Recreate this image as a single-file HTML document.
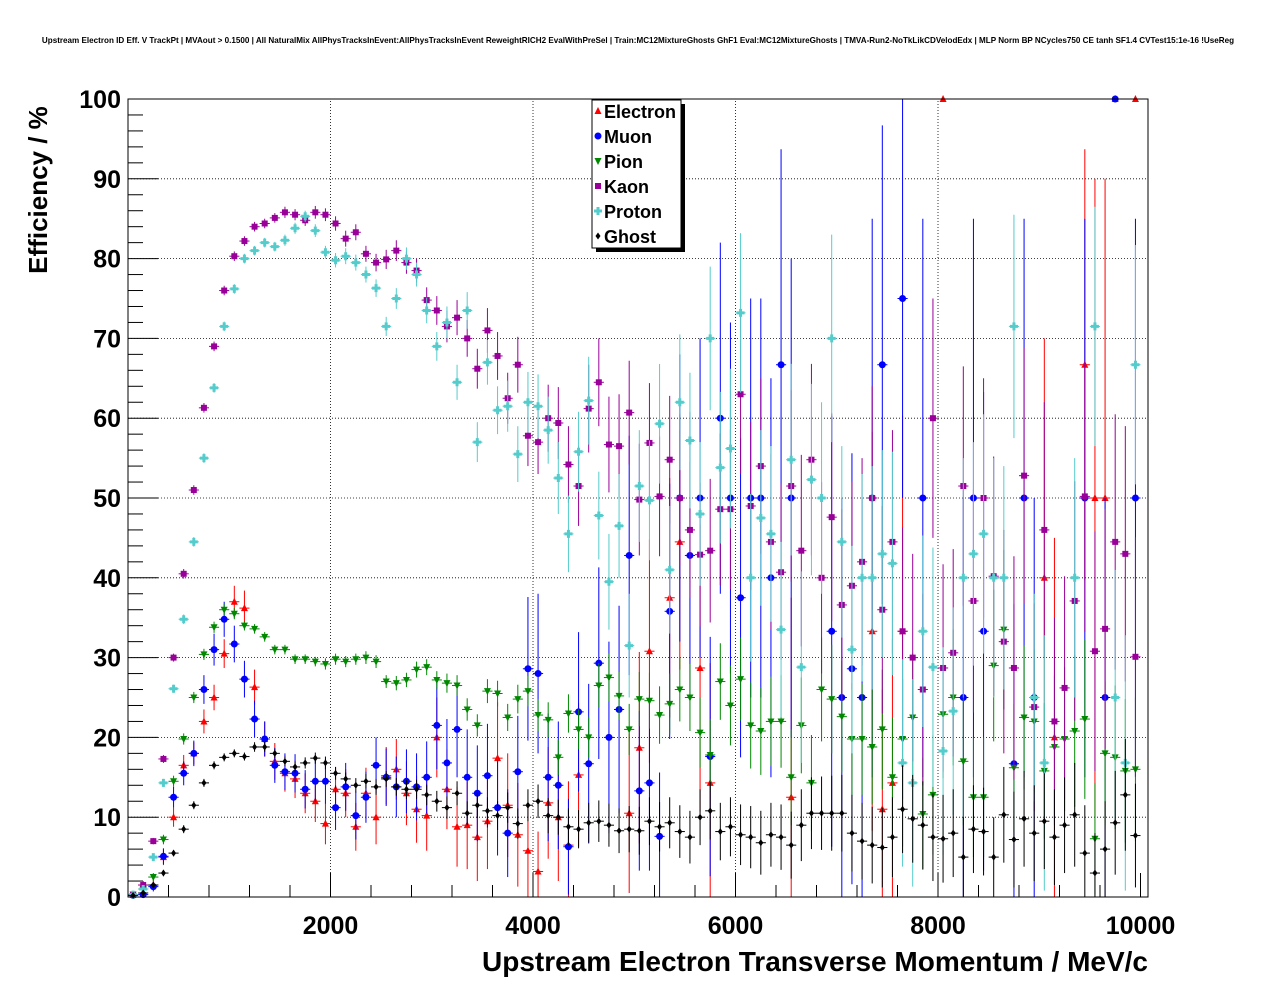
<!DOCTYPE html>
<html><head><meta charset="utf-8">
<style>
html,body{margin:0;padding:0;background:#fff;}
svg{display:block;font-family:"Liberation Sans",Arial,sans-serif;}
</style></head>
<body>
<svg id="chart" width="1276" height="996" viewBox="0 0 1276 996">
<rect x="0" y="0" width="1276" height="996" fill="#fff"/>
<text x="638" y="43" text-anchor="middle" font-size="8.1" font-weight="bold">Upstream Electron ID Eff. V TrackPt | MVAout &gt; 0.1500 | All NaturalMix AllPhysTracksInEvent:AllPhysTracksInEvent ReweightRICH2 EvalWithPreSel | Train:MC12MixtureGhosts GhF1 Eval:MC12MixtureGhosts | TMVA-Run2-NoTkLikCDVelodEdx | MLP Norm BP NCycles750 CE tanh SF1.4 CVTest15:1e-16 !UseReg</text>
<g id="grid"></g>
<g id="axes"></g>
<g id="series"></g>
<rect x="128" y="99" width="1020" height="798" fill="none" stroke="#000" stroke-width="1"/>
<text transform="translate(47,190) rotate(-90)" text-anchor="middle" font-size="26" font-weight="bold">Efficiency / %</text>
<text x="1148" y="971" text-anchor="end" font-size="28" font-weight="bold">Upstream Electron Transverse Momentum / MeV/c</text>
<g id="legend">
<rect x="596" y="104" width="89" height="148" fill="#000"/>
<rect x="592" y="100" width="89" height="148" fill="#fff" stroke="#000" stroke-width="1"/>
</g>
</svg>
<script>
const categories = [];
for (let i = 0; i < 100; i++) categories.push(50 + 100 * i);
const xTicks = [2000, 4000, 6000, 8000, 10000];
const yTicks = [0, 10, 20, 30, 40, 50, 60, 70, 80, 90, 100];
const seriesNames = ["Electron", "Muon", "Pion", "Kaon", "Proton", "Ghost"];
const N = null;
const electronVals = [0.3,1.5,1.5,5,10,16.5,18,22,25,30.5, 37,36.2,26.3,19.8,17,15.5,14.8,13,12,9.2, 13.5,13,8.8,13,10,15.2,16,13,11,10.2, 20,13.5,8.8,9,7.5,9.5,17.4,11.5,7.8,5.8, 3.2,11.8,10,6.5,15.3,N,N,N,N,10.5, 18.7,30.8,N,37.5,44.5,N,28.7,14.3,N,N, N,N,N,N,N,12.5,N,N,N,N, N,N,N,33.3,11,14.3,33.3,N,N,N, 100,N,N,N,N,N,N,N,N,N, 40,20,N,N,66.7,50,50,100,N,100];
const electronErr = [0.2,0.5,0.6,1,1.2,1.3,1.4,1.5,1.6,1.8, 2,2.2,2.2,2.2,2.3,2.3,2.4,2.5,2.6,2.6, 2.8,3,3,3.2,3.4,3.6,3.8,4,4.2,4.4, 5,5,5,5.5,5.5,6,7,6.5,6.5,6, 5,7,8,8,9,N,N,N,N,10, 12,14,N,15,16,N,18,15,N,N, N,N,N,N,N,25,N,N,N,N, N,N,N,25,15,18,27,N,N,N, 0,N,N,N,N,N,N,N,N,N, 30,25,N,N,27,40,40,0,N,0];
const muonVals = [0.2,0.3,1.3,5.1,12.5,15.5,18,26,31,34.8, 31.7,27.3,22.3,19.8,16.5,15.7,15.5,13.5,14.5,14.5, 11.2,13.8,10.2,12.5,16.5,15,13.8,14.5,13.8,15, 21.5,16.8,21,15,13,15.2,11.2,8,15.7,28.6, 28,15,14,6.3,23.2,16.7,29.3,20,23.5,42.8, 13.3,14.3,7.6,35.8,50,42.8,50,17.6,60,50, 37.5,50,50,40,66.7,50,N,N,N,33.3, 25,28.6,25,50,66.7,N,75,N,50,N, N,N,25,50,33.3,N,N,16.7,50,25, N,N,N,N,50,N,25,100,N,50];
const muonErr = [0.2,0.3,0.6,1,1.3,1.5,1.6,1.8,2,2.2, 2.3,2.3,2.3,2.2,2.2,2.3,2.4,2.4,2.6,2.8, 2.8,3,3,3.2,3.5,3.6,3.8,4,4.2,4.5, 5.5,5.5,6,6,6,6.5,6,5.5,7,9, 10,8,8,6,10,10,12,12,13,15, 10,11,8,16,18,18,20,15,22,22, 20,25,25,25,27,30,N,N,N,27, 25,27,25,35,30,N,25,N,35,N, N,N,25,35,30,N,N,20,35,25, N,N,N,N,35,N,25,0,N,35];
const pionVals = [0.3,1,2.5,7.2,14.5,19.8,25,30.4,33.8,36, 35.5,34,33.6,32.6,31,31,29.8,29.8,29.5,29.2, 29.8,29.5,29.8,30,29.5,27,26.8,27.2,28.5,28.8, 27.2,26.8,26.5,23.5,21.5,25.8,25.5,22.5,24.8,25.8, 22.8,22.2,17.5,23,21,20,26.5,27.5,25.2,21, 24.8,24.6,22.8,24.2,26,25,20.6,17.8,27,24, 27.3,21.5,20.8,22,22,15,21.5,14.3,26,24.8, 22.6,19.8,19.8,18.8,21,15,19.8,22.5,10.4,12.8, 22.9,25,17,12.5,12.5,29,33.5,16.2,22.5,22, 15.8,18.8,19.8,20.8,22.3,7.3,18,17.5,15.8,16];
const pionErr = [0.2,0.4,0.5,0.6,0.7,0.7,0.7,0.7,0.7,0.7, 0.7,0.6,0.6,0.6,0.6,0.6,0.6,0.6,0.6,0.7, 0.7,0.7,0.7,0.8,0.8,0.8,0.9,0.9,1,1, 1.1,1.2,1.3,1.4,1.4,1.5,1.6,1.7,1.8,1.9, 2,2.2,2.2,2.4,2.5,2.6,2.8,3,3,3.2, 3.4,3.5,3.6,3.8,4,4.2,4.4,4.5,4.8,5, 5.2,5.4,5.5,5.6,5.8,6,6,6,6.5,6.8, 7,7,7,7.2,7.5,7.5,7.5,8,7,7.5, 8,8.5,8,7.5,7.5,9.5,10,8,9,9, 8.5,9,9,9.5,10,7,9,9,9,9];
const kaonVals = [0.3,1.5,7,17.3,30,40.5,51,61.3,69,76, 80.3,82.2,84,84.4,85.1,85.8,85.5,84.8,85.8,85.5, 84.4,82.5,83.3,80.6,79.5,79.9,81,79.5,78.5,74.8, 73.5,71.5,72.6,70,66.2,71,67.8,62.5,66.7,57.8, 57,60,59.4,54.2,51.5,61.2,64.5,56.7,56.5,60.7, 49.8,56.9,50.2,54.8,50,46,42.9,43.4,48.6,48.6, 63,49,54,44.5,40.7,51.5,43.4,54.8,40,47.6, 36.6,39,42,50,36,44.5,33.3,30,26,60, 28.7,30.6,51.5,37.1,50,40.2,32,28.7,52.8,23.8, 46,22,26.2,37.1,50.2,30.8,33.6,44.5,43,30.1];
const kaonErr = [0.2,0.3,0.4,0.5,0.5,0.6,0.6,0.6,0.6,0.6, 0.6,0.6,0.6,0.6,0.6,0.7,0.7,0.7,0.8,0.8, 0.9,1,1,1,1.1,1.2,1.3,1.4,1.5,1.6, 1.8,2,2.2,2.3,2.5,2.8,3,3.2,3.5,3.8, 4,4.2,4.5,4.8,5,5.5,5.5,6,6.5,6.5, 7,7.5,7.5,8,8.5,8.5,9,9,9.5,10, 10,10.5,11,11,11,12,12,12,12,13, 12,13,13,14,13,14,13,13,12,15, 13,13,15,14,15,15,14,14,16,13, 16,13,14,15,17,15,15,16,16,15];
const protonVals = [0.3,1,5,14.3,26.1,34.8,44.5,55,63.8,71.5, 76.2,80,81,82,81.5,82.3,83.8,85.3,83.5,80.8, 79.8,80.3,79.5,78,76.3,71.5,75,80,78,73.5, 69,72,64.5,73.5,57,67,61,61.5,55.5,62, 61.5,58.5,52.5,45.5,55.8,62.2,47.8,39.5,46.5,31.5, 51.5,49.7,59.3,41,62,57.2,48,70,53.8,56.2, 73.2,40,47.5,45.5,33.5,54.8,28.8,52.3,50,70, 44.5,31,40,40,43,41.8,16.8,14.3,33.3,28.8, 18.3,23.3,40,43,45.5,40,40,71.5,N,25, 16.8,N,N,40,N,71.5,N,25,16.8,66.7];
const protonErr = kaonErr;
const ghostVals = [0.2,0.5,1.5,3,5.5,8.5,11.5,14.3,16.5,17.5, 18,17.6,18.8,18.8,18,17,16.3,16.8,17.4,16.8, 15.5,14.8,14,14.5,13.8,14.8,13.8,13.5,13.5,12.8, 12,11.2,13,10.5,11.5,10.8,10.2,11.2,9.2,11.5, 12,10.2,10,8.8,8.5,9.3,9.5,9,8.3,8.5, 8.3,9.5,8.8,9.3,8.2,7.5,10,10.8,8.2,8.8, 7.8,7.5,6.8,7.8,7.5,6.5,9,10.5,10.5,10.5, 10.5,8,7,6.5,6.2,7.5,11,9.8,9,7.5, 7.3,8,5,8.5,8.2,5,10.3,7.2,9.8,8, 9.5,7.5,9,10.3,5.5,3,6,9.3,12.8,7.7];
const ghostErr = [0.1,0.2,0.3,0.4,0.4,0.5,0.5,0.5,0.5,0.5, 0.5,0.5,0.6,0.6,0.6,0.6,0.7,0.7,0.7,0.8, 0.8,0.8,0.9,0.9,1,1,1.1,1.2,1.2,1.3, 1.3,1.4,1.5,1.5,1.6,1.7,1.8,1.9,1.9,2, 2.1,2.2,2.2,2.3,2.4,2.5,2.6,2.7,2.8,2.9, 3,3,3.1,3.2,3.3,3.3,3.5,3.6,3.6,3.7, 3.8,3.9,4,4,4.1,4.2,4.5,4.5,4.6,4.7, 4.8,4.8,4.8,4.8,5,5,5.5,5.5,5.5,5.5, 5.5,5.5,5,5.5,5.5,5,6,6,6,6, 6,6,6,6.5,6,5,6,6.5,7,6.5];

const NS = "http://www.w3.org/2000/svg";
const X0 = 128, X1 = 1148, XMAX = 10074;
const Y0 = 897, Y1 = 99, YMAX = 100;
function xs(v){ return X0 + (v / XMAX) * (X1 - X0); }
function ys(v){ return Y0 - (v / YMAX) * (Y0 - Y1); }
function mk(tag, attrs, parent){
  const e = document.createElementNS(NS, tag);
  for (const k in attrs) e.setAttribute(k, attrs[k]);
  parent.appendChild(e);
  return e;
}
const grid = document.getElementById("grid");
const axes = document.getElementById("axes");
const series = document.getElementById("series");

yTicks.forEach(t => {
  const y = ys(t);
  if (t > 0 && t < 100) {
    const g = mk("line", {x1:X0, x2:X1, y1:y, y2:y, stroke:"#000", "stroke-width":0.8, "stroke-dasharray":"1,2"}, grid);
    
    
  }
  const tk = mk("line", {x1:X0, x2:X0+30, y1:y, y2:y, stroke:"#000", "stroke-width":1}, axes);
  
  
  const lb = mk("text", {x:121, y:y+9, "text-anchor":"end", "font-size":25, "font-weight":"bold"}, axes);
  lb.textContent = t;
  
  
});
for (let m = 2; m < 100; m += 2) {
  if (m % 10 === 0) continue;
  const y = ys(m);
  const mt = mk("line", {x1:X0, x2:X0+15, y1:y, y2:y, stroke:"#000", "stroke-width":1}, axes);
  
  
}
xTicks.forEach(t => {
  const x = xs(t);
  if (t < 10000) {
    const g = mk("line", {x1:x, x2:x, y1:Y0, y2:Y1, stroke:"#000", "stroke-width":0.8, "stroke-dasharray":"1,2"}, grid);
    
    
  }
  const tk = mk("line", {x1:x, x2:x, y1:Y0, y2:Y0-24, stroke:"#000", "stroke-width":1}, axes);
  
  
  const lb = mk("text", {x:x, y:934, "text-anchor":"middle", "font-size":25, "font-weight":"bold"}, axes);
  lb.textContent = t;
  
  
});
for (let m = 400; m < 10000; m += 400) {
  if (m % 2000 === 0) continue;
  const x = xs(m);
  const mt = mk("line", {x1:x, x2:x, y1:Y0, y2:Y0-12, stroke:"#000", "stroke-width":1}, axes);
  
  
}

function marker(shape, cx, cy, color, parent){
  let e;
  if (shape === "tri-up") e = mk("polygon", {points:`${cx},${cy-4} ${cx-3.5},${cy+3} ${cx+3.5},${cy+3}`, fill:color}, parent);
  else if (shape === "tri-down") e = mk("polygon", {points:`${cx},${cy+4} ${cx-3.5},${cy-3} ${cx+3.5},${cy-3}`, fill:color}, parent);
  else if (shape === "circle") e = mk("circle", {cx:cx, cy:cy, r:3.5, fill:color}, parent);
  else if (shape === "square") e = mk("rect", {x:cx-3, y:cy-3, width:6, height:6, fill:color}, parent);
  else if (shape === "cross") e = mk("path", {d:`M${cx-1.5},${cy-4}h3v2.5h2.5v3h-2.5v2.5h-3v-2.5h-2.5v-3h2.5z`, fill:color}, parent);
  else e = mk("polygon", {points:`${cx},${cy-3.5} ${cx-2.5},${cy} ${cx},${cy+3.5} ${cx+2.5},${cy}`, fill:color}, parent);
  return e;
}
const defs = [
  {name:"electron", vals:electronVals, err:electronErr, color:"#ff0000", shape:"tri-up"},
  {name:"muon", vals:muonVals, err:muonErr, color:"#0000ff", shape:"circle"},
  {name:"pion", vals:pionVals, err:pionErr, color:"#008800", shape:"tri-down"},
  {name:"kaon", vals:kaonVals, err:kaonErr, color:"#990099", shape:"square"},
  {name:"proton", vals:protonVals, err:protonErr, color:"#55cccc", shape:"cross"},
  {name:"ghost", vals:ghostVals, err:ghostErr, color:"#000000", shape:"diamond"}
];
defs.forEach(s => {
  const g = mk("g", {}, series);
  
  
  categories.forEach((c, i) => {
    const v = s.vals[i];
    if (v === null || v === undefined) return;
    const e = s.err[i] || 0;
    const cx = xs(c), cy = ys(v);
    const hx = mk("line", {x1:xs(c-50), x2:xs(c+50), y1:cy, y2:cy, stroke:s.color, "stroke-width":1}, g);
    
    
    if (e > 0) {
      const vy = mk("line", {x1:cx, x2:cx, y1:ys(Math.min(100, v+e)), y2:ys(Math.max(0, v-e)), stroke:s.color, "stroke-width":1}, g);
      
      
    }
    const m = marker(s.shape, cx, cy, s.color, g);
    
    
  });
});
const legend = document.getElementById("legend");
defs.forEach((s, i) => {
  const y = 111 + i * 25;
  const m = marker(s.shape, 598, y, s.color, legend);
  
  
  const t = mk("text", {x:604, y:y+7, "font-size":18, "font-weight":"bold"}, legend);
  t.textContent = seriesNames[i];
  
  
});
</script>
</body></html>
